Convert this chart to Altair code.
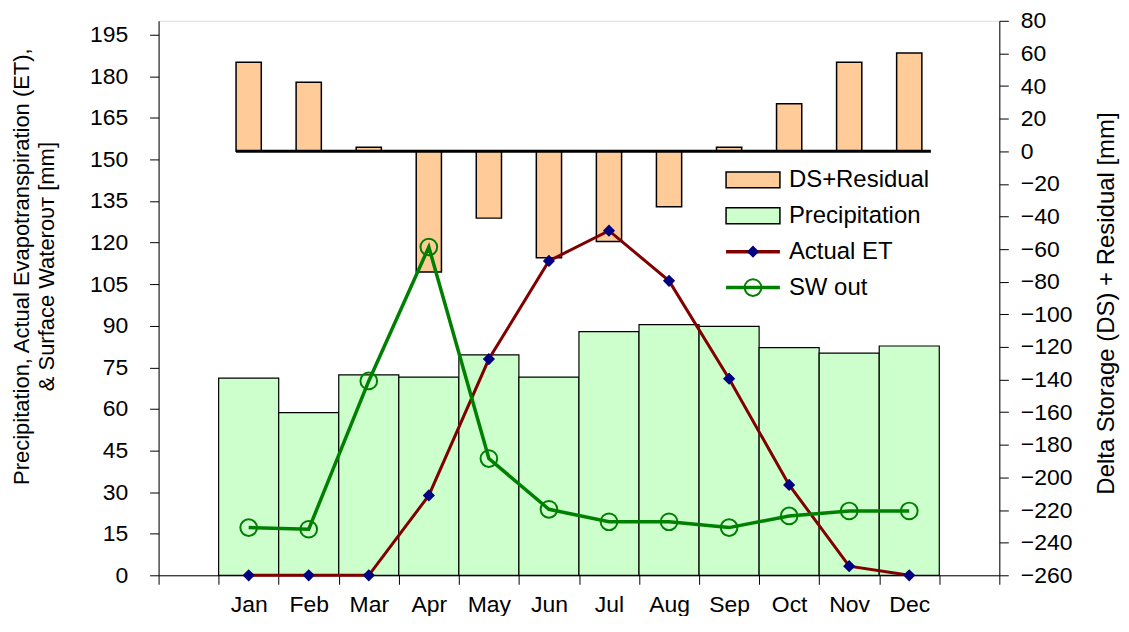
import altair as alt
import pandas as pd

months = ["Jan", "Feb", "Mar", "Apr", "May", "Jun", "Jul", "Aug", "Sep", "Oct", "Nov", "Dec"]
precip = [71.1, 58.7, 72.3, 71.5, 79.5, 71.5, 87.9, 90.4, 89.8, 82.1, 80.1, 82.7]
actual_et = [0.0, 0.0, 0.0, 28.8, 78.0, 113.4, 124.3, 106.2, 70.9, 32.6, 3.3, 0.0]
sw_out = [17.2, 16.6, 70.1, 118.4, 42.1, 23.8, 19.3, 19.3, 17.2, 21.4, 23.2, 23.2]
ds_resid = [54.5, 42.3, 2.4, -74.0, -41.0, -65.3, -55.3, -34.0, 2.4, 29.2, 54.5, 60.2]

legend_labels = ["DS+Residual", "Precipitation", "Actual ET", "SW out"]

domain_x = [" "] + months + ["  "]

df = pd.DataFrame({"month": months, "precip": precip, "et": actual_et,
                   "sw": sw_out, "ds": ds_resid})

FONT = "Liberation Sans"
W, H = 843, 556
FS = 23

xaxis = alt.Axis(title=None, tickBand="extent", labelAngle=0, labelFontSize=FS,
                 labelPadding=9, tickSize=9, domainColor="#000000",
                 tickColor="#000000", labelColor="#000000", labelFont=FONT)
xscale = alt.Scale(domain=domain_x, paddingInner=0, paddingOuter=0)
X = alt.X("month:N", scale=xscale, axis=xaxis, sort=domain_x)

left_scale = alt.Scale(domain=[0, 200], nice=False, zero=False)
right_scale = alt.Scale(domain=[-260, 80], nice=False, zero=False)

base = alt.Chart(df)

precip_bars = base.mark_bar(fill="#CCFFCC", stroke="#000000", strokeWidth=1.2).encode(
    x=X,
    y=alt.Y("precip:Q", scale=left_scale,
            axis=alt.Axis(values=list(range(0, 196, 15)), orient="left",
                          title=["Precipitation, Actual Evapotranspiration (ET),",
                                 "& Surface Waterᴏᴜᴛ [mm]"],
                          titleFontSize=22, titleFont=FONT, titleFontWeight="normal",
                          titleColor="#000000", titleLineHeight=25,
                          titleX=-137, titleY=246, titleBaseline="middle",
                          titleAngle=270, titleAlign="center",
                          labelFontSize=FS, labelFont=FONT, labelColor="#000000",
                          labelPadding=22, tickSize=9, grid=False,
                          domainColor="#000000", tickColor="#000000")),
)

ds_bars = base.mark_bar(fill="#FFCC99", stroke="#000000", strokeWidth=1.5,
                        width={"band": 0.42}).encode(
    x=X,
    y=alt.Y("ds:Q", scale=right_scale,
            axis=alt.Axis(values=list(range(-260, 81, 20)), orient="right",
                          title="Delta Storage (DS) + Residual [mm]",
                          titleFontSize=24, titleFont=FONT, titleFontWeight="normal",
                          titleColor="#000000", titleAngle=270, titleAlign="center",
                          titleBaseline="middle", titleX=107, titleY=283,
                          labelFontSize=FS, labelFont=FONT, labelColor="#000000",
                          labelPadding=12, tickSize=9, grid=False,
                          domainColor="#000000", tickColor="#000000")),
    y2=alt.datum(0),
)

zero_df = pd.DataFrame({"a": [months[0]], "b": [months[-1]], "z": [0]})
zero_rule = alt.Chart(zero_df).mark_rule(color="#000000", strokeWidth=3).encode(
    x=alt.X("a:N", scale=xscale, axis=xaxis, sort=domain_x, bandPosition=0.29),
    x2=alt.X2("b:N", bandPosition=0.86),
    y=alt.Y("z:Q", scale=right_scale, axis=None),
)

et_line = base.mark_line(color="#800000", strokeWidth=3).encode(
    x=X, y=alt.Y("et:Q", scale=left_scale, axis=None))
et_pts = base.mark_point(shape="diamond", filled=True, color="#000080", size=150,
                         opacity=1).encode(
    x=X, y=alt.Y("et:Q", scale=left_scale, axis=None))

sw_line = base.mark_line(color="#008000", strokeWidth=3.5).encode(
    x=X, y=alt.Y("sw:Q", scale=left_scale, axis=None))
sw_pts = base.mark_point(shape="circle", filled=False, color="#008000", size=280,
                         strokeWidth=2, opacity=1).encode(
    x=X, y=alt.Y("sw:Q", scale=left_scale, axis=None))

# legend (drawn in pixel space)
leg = pd.DataFrame({"label": legend_labels, "i": [0, 1, 2, 3]})
legbase = alt.Chart(leg).transform_calculate(
    ly="159.5 + datum.i * 36", ly0="159.5 + datum.i * 36 - 8",
    ly1="159.5 + datum.i * 36 + 8")

leg_rect = legbase.transform_filter("datum.i < 2").mark_rect(
    stroke="#000000", strokeWidth=1.5).encode(
    x=alt.value(569), x2=alt.value(623),
    y=alt.Y("ly0:Q", scale=None, axis=None), y2="ly1:Q",
    fill=alt.Fill("label:N", scale=alt.Scale(domain=legend_labels[:2],
                                             range=["#FFCC99", "#CCFFCC"]), legend=None))
leg_line = legbase.transform_filter("datum.i >= 2").mark_rule(strokeWidth=3.5).encode(
    x=alt.value(569), x2=alt.value(623),
    y=alt.Y("ly:Q", scale=None, axis=None),
    color=alt.Color("label:N", scale=alt.Scale(domain=legend_labels[2:],
                                               range=["#800000", "#008000"]), legend=None))
leg_dia = legbase.transform_filter("datum.i == 2").mark_point(
    shape="diamond", filled=True, color="#000080", size=150, opacity=1).encode(
    x=alt.value(596), y=alt.Y("ly:Q", scale=None, axis=None))
leg_circ = legbase.transform_filter("datum.i == 3").mark_point(
    shape="circle", filled=False, color="#008000", size=280, strokeWidth=2, opacity=1).encode(
    x=alt.value(596), y=alt.Y("ly:Q", scale=None, axis=None))
leg_text = legbase.mark_text(align="left", baseline="middle", fontSize=24,
                             font=FONT, color="#000000").encode(
    x=alt.value(632), y=alt.Y("ly:Q", scale=None, axis=None), text="label:N")

chart = alt.layer(
    precip_bars, ds_bars, zero_rule, et_line, et_pts, sw_line, sw_pts,
    leg_rect, leg_line, leg_dia, leg_circ, leg_text,
).resolve_scale(
    y="independent", color="independent", fill="independent"
).properties(
    width=W, height=H,
    autosize=alt.AutoSizeParams(type="none"),
    padding={"left": 151, "top": 12, "right": 122, "bottom": 40},
).configure_view(
    stroke="#808080", strokeWidth=1
).configure(background="#ffffff")

chart.save("out.html", embed_options={"renderer": "svg", "actions": False})
